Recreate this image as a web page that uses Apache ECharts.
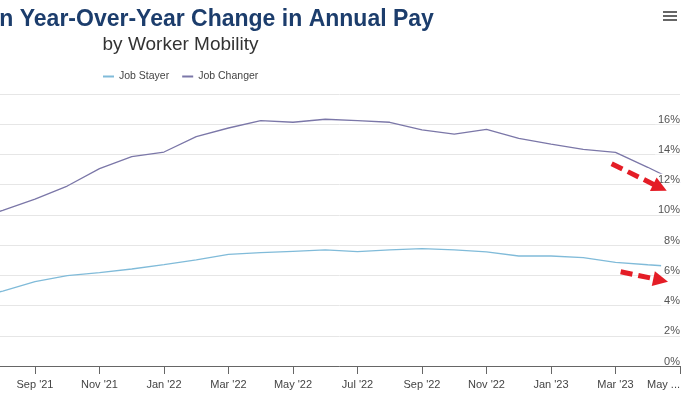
<!DOCTYPE html>
<html>
<head>
<meta charset="utf-8">
<script src="https://cdn.jsdelivr.net/npm/echarts@6/dist/echarts.min.js"></script>
<style>
html,body{margin:0;padding:0;background:#fff;}
#chart{width:700px;height:394px;}
</style>
</head>
<body>
<div id="chart"></div>
<script>
var months = ["Jul '21","Aug '21","Sep '21","Oct '21","Nov '21","Dec '21","Jan '22","Feb '22","Mar '22","Apr '22","May '22","Jun '22","Jul '22","Aug '22","Sep '22","Oct '22","Nov '22","Dec '22","Jan '23","Feb '23","Mar '23","Apr '23","May '23"];
var jobStayer   = [4.5, 4.95, 5.58, 5.98, 6.18, 6.42, 6.71, 7.02, 7.39, 7.50, 7.59, 7.68, 7.57, 7.68, 7.77, 7.68, 7.55, 7.28, 7.28, 7.17, 6.86, 6.7, 6.55];
var jobChanger  = [9.6, 10.3, 11.05, 11.91, 13.06, 13.85, 14.16, 15.18, 15.75, 16.24, 16.13, 16.33, 16.24, 16.13, 15.62, 15.35, 15.66, 15.07, 14.69, 14.34, 14.14, 13.15, 12.1];
var yTicks = [0, 2, 4, 6, 8, 10, 12, 14, 16, 18];
var arrowChanger = [[19.88, 13.39], [21.38, 11.81]];
var arrowStayer  = [[20.16, 6.24], [21.40, 5.68]];

var FONT = "'Liberation Sans', Arial, Helvetica, sans-serif";
function pairs(arr){ return arr.map(function(v,i){ return [i, v]; }); }
function arrowLine(a){
  return [{coord: a[0]}, {coord: a[1]}];
}
var yBase = {
  type: 'value', position: 'right', min: yTicks[0], max: yTicks[yTicks.length - 1], interval: 2,
  axisLine: {show: false}, axisTick: {show: false}
};

var chart = echarts.init(document.getElementById('chart'), null, {renderer: 'canvas'});
chart.setOption({
  animation: false,
  backgroundColor: '#ffffff',
  textStyle: {fontFamily: FONT},
  title: [
    {text: 'Median Year-Over-Year Change in Annual Pay', left: 184, top: 8, textAlign: 'center', padding: 0,
     textStyle: {fontFamily: FONT, fontSize: 23, fontWeight: 'bold', color: '#1c3d6c'}},
    {text: 'by Worker Mobility', left: 180.5, top: 35, textAlign: 'center', padding: 0,
     textStyle: {fontFamily: FONT, fontSize: 19, fontWeight: 'normal', color: '#333333'}}
  ],
  legend: {
    left: 103, top: 71, padding: 0,
    icon: 'rect', itemWidth: 11, itemHeight: 2, itemGap: 13,
    textStyle: {fontFamily: FONT, fontSize: 10.5, color: '#444444'},
    data: ['Job Stayer', 'Job Changer']
  },
  grid: {left: -29.5, right: 20, top: 94, bottom: 28, containLabel: false, outerBoundsMode: 'none'},
  xAxis: {
    type: 'value', min: 0, max: months.length - 1, interval: 2,
    axisLine: {show: true, lineStyle: {color: '#666666', width: 1}},
    axisTick: {show: true, length: 8, lineStyle: {color: '#666666'}},
    splitLine: {show: false},
    axisLabel: {
      margin: 13, fontSize: 11, color: '#444444', fontFamily: FONT,
      alignMaxLabel: 'right',
      formatter: function(v){
        var s = months[Math.round(v)] || '';
        if (Math.round(v) === months.length - 1) { s = s.split(' ')[0] + ' ...'; }
        return s;
      }
    }
  },
  yAxis: [
    Object.assign({}, yBase, {
      z: 0,
      splitLine: {show: true, lineStyle: {color: '#e6e6e6', width: 1}},
      axisLabel: {show: false}
    }),
    Object.assign({}, yBase, {
      z: 4,
      splitLine: {show: false},
      axisLabel: {
        inside: true, margin: 0, fontSize: 11, color: '#555555', fontFamily: FONT,
        verticalAlign: 'bottom', lineHeight: 9, showMaxLabel: false,
        backgroundColor: '#ffffff', padding: [2, 0, 0, 3],
        formatter: function(v){ return v + '%'; }
      }
    })
  ],
  series: [
    {name: 'Job Stayer', type: 'line', data: pairs(jobStayer), showSymbol: false, symbol: 'none',
     lineStyle: {color: '#80bbd9', width: 1.3}, itemStyle: {color: '#80bbd9'}, z: 2},
    {name: 'Job Changer', type: 'line', data: pairs(jobChanger), showSymbol: false, symbol: 'none',
     lineStyle: {color: '#7b77a8', width: 1.3}, itemStyle: {color: '#7b77a8'}, z: 2},
    {name: 'Trend arrows', type: 'line', data: [], z: 10, silent: true,
     markLine: {
       silent: true, z: 10,
       symbol: ['none', 'triangle'], symbolSize: 15,
       label: {show: false}, emphasis: {disabled: true},
       lineStyle: {type: [12, 6], width: 5, color: '#e41d26'},
       itemStyle: {color: '#e41d26'},
       data: [arrowLine(arrowChanger), arrowLine(arrowStayer)]
     }}
  ],
  graphic: [
    {type: 'group', left: 663, top: 11, children: [
      {type: 'rect', shape: {x: 0, y: 0, width: 14, height: 2}, style: {fill: '#666666'}},
      {type: 'rect', shape: {x: 0, y: 4, width: 14, height: 2}, style: {fill: '#666666'}},
      {type: 'rect', shape: {x: 0, y: 8, width: 14, height: 2}, style: {fill: '#666666'}}
    ]}
  ]
});
</script>
</body>
</html>
